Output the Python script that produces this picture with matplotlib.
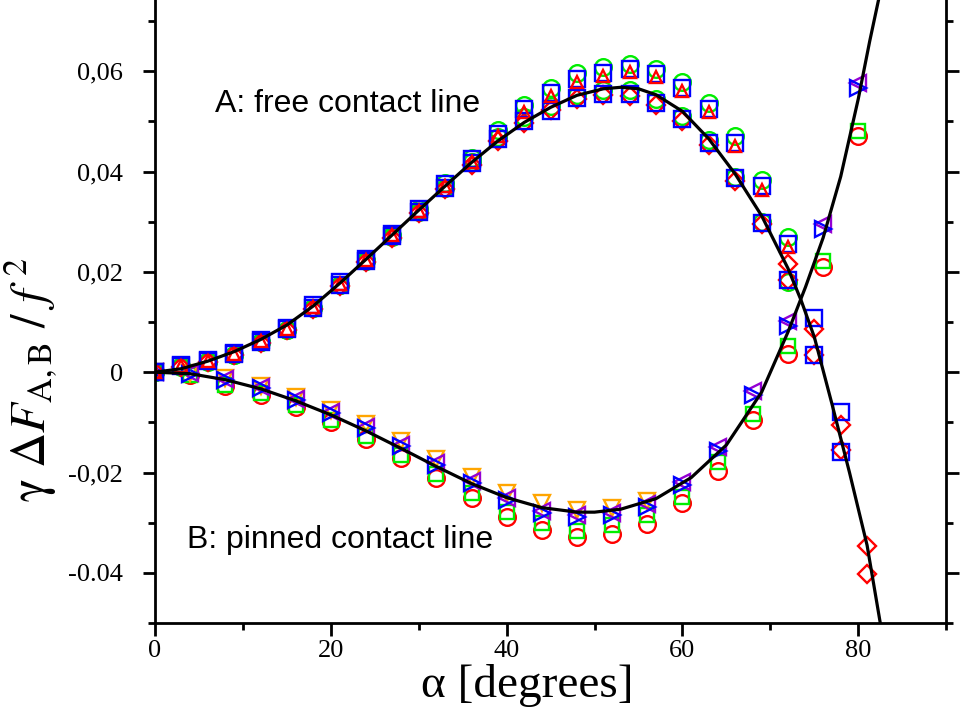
import numpy as np
import matplotlib
matplotlib.use('Agg')
import matplotlib.pyplot as plt
from matplotlib.ticker import MultipleLocator

plt.rcParams['mathtext.fontset'] = 'stix'

# ---- data ----
# A: free contact line, angles every 3 degrees
alpha_A = [0, 3, 6, 9, 12, 15, 18, 21, 24, 27, 30, 33, 36, 39, 42, 45, 48, 51, 54,
           57, 60, 63, 66, 69, 72, 75, 78, 81]

A_circ_hi = [0.0, 0.0012, 0.0022, 0.0034, 0.0060, 0.0085, 0.0128, 0.0174, 0.0224, 0.0274,
             0.0326, 0.0378, 0.0428, 0.0482, 0.0532, 0.0566, 0.0596, 0.0608, 0.0614, 0.0604,
             0.0578, 0.0536, 0.0470, 0.0384, 0.0270]
A_circ_lo = [0.0, 0.0010, 0.0020, 0.0034, 0.0060, 0.0085, 0.0128, 0.0174, 0.0222, 0.0270,
             0.0320, 0.0368, 0.0420, 0.0468, 0.0508, 0.0530, 0.0552, 0.0562, 0.0562, 0.0544,
             0.0510, 0.0462, 0.0390, 0.0300, 0.0180]
A_sq_hi = [0.0, 0.0014, 0.0024, 0.0038, 0.0064, 0.0089, 0.0133, 0.0179, 0.0226, 0.0276,
           0.0326, 0.0375, 0.0425, 0.0475, 0.0524, 0.0556, 0.0584, 0.0596, 0.0604, 0.0594,
           0.0566, 0.0524, 0.0457, 0.0371, 0.0256, 0.0109, -0.0079]
A_sq_lo = [0.0, 0.0012, 0.0022, 0.0036, 0.0060, 0.0086, 0.0128, 0.0174, 0.0222, 0.0272,
           0.0320, 0.0368, 0.0418, 0.0465, 0.0500, 0.0520, 0.0546, 0.0554, 0.0554, 0.0536,
           0.0504, 0.0457, 0.0387, 0.0298, 0.0183, 0.0034, -0.0160]
A_tri_hi = [0.0, 0.0012, 0.0022, 0.0036, 0.0062, 0.0087, 0.0130, 0.0176, 0.0224, 0.0274,
            0.0322, 0.0372, 0.0420, 0.0470, 0.0518, 0.0550, 0.0578, 0.0590, 0.0598, 0.0588,
            0.0560, 0.0518, 0.0450, 0.0364, 0.0250]
A_dia_lo = [0.0, 0.0010, 0.0020, 0.0034, 0.0058, 0.0084, 0.0126, 0.0172, 0.0220, 0.0268,
            0.0318, 0.0366, 0.0414, 0.0460, 0.0496, 0.0522, 0.0544, 0.0552, 0.0550, 0.0532,
            0.0500, 0.0452, 0.0382, 0.0296, 0.0183, 0.0035, -0.0155, -0.0403]
alpha_A_dia_hi = [72, 75, 78, 81]
A_dia_hi = [0.0216, 0.0087, -0.0105, -0.0347]

# B: pinned contact line, angles every 4 degrees
alpha_B = [0, 4, 8, 12, 16, 20, 24, 28, 32, 36, 40, 44, 48, 52, 56, 60, 64, 68, 72, 76, 80]
B_blue = [0.0, -0.0003, -0.0016, -0.0032, -0.0056, -0.0082, -0.0112, -0.0148, -0.0185,
          -0.0220, -0.0254, -0.0280, -0.0288, -0.0285, -0.0268, -0.0224, -0.0157, -0.0046,
          0.0093, 0.0286, 0.0566]
B_purple = [0.0, -0.0002, -0.0014, -0.0030, -0.0054, -0.0080, -0.0110, -0.0145, -0.0182,
            -0.0216, -0.0250, -0.0276, -0.0284, -0.0280, -0.0262, -0.0218, -0.0150, -0.0038,
            0.0102, 0.0296, 0.0576]
B_orange = [0.0, -0.0002, -0.0012, -0.0028, -0.0050, -0.0076, -0.0104, -0.0138, -0.0174,
            -0.0208, -0.0240, -0.0260, -0.0274, -0.0270, -0.0256]
B_green = [0.0, -0.0005, -0.0026, -0.0042, -0.0066, -0.0095, -0.0128, -0.0165, -0.0202,
           -0.0240, -0.0278, -0.0300, -0.0316, -0.0304, -0.0284, -0.0248, -0.0180, -0.0083,
           0.0052, 0.0222, 0.0480]
B_red = [0.0, -0.0006, -0.0028, -0.0045, -0.0070, -0.0100, -0.0134, -0.0172, -0.0210,
         -0.0250, -0.0288, -0.0314, -0.0328, -0.0322, -0.0302, -0.0260, -0.0197, -0.0095,
         0.0036, 0.0210, 0.0470]

# theory curves
alpha_curveA = [0, 3, 6, 9, 12, 15, 18, 21, 24, 27, 30, 33, 36, 39, 42, 45, 48, 51, 53, 55,
                57, 60, 63, 66, 69, 72, 73.5, 75, 77, 79, 81, 82.5]
curveA = [0, 0.0007, 0.0022, 0.0041, 0.0065, 0.0094, 0.0132, 0.0177, 0.0225, 0.0274,
          0.0323, 0.0371, 0.0418, 0.0461, 0.0498, 0.0528, 0.0552, 0.0565, 0.0568, 0.0565,
          0.0553, 0.0520, 0.0465, 0.0395, 0.0312, 0.0207, 0.0143, 0.0070, -0.0063, -0.0200,
          -0.0345, -0.0500]
alpha_curveB = [0, 4, 8, 12, 16, 20, 24, 28, 32, 36, 40, 44, 48, 50, 53, 57, 61, 65, 69, 72,
                74, 76, 78, 80, 81.3, 82.3]
curveB = [0, -0.0003, -0.0015, -0.0033, -0.0057, -0.0085, -0.0117, -0.0152, -0.0188,
          -0.0222, -0.0250, -0.0270, -0.0279, -0.0279, -0.0273, -0.0252, -0.0210, -0.0145,
          -0.0040, 0.0080, 0.0170, 0.0268, 0.0390, 0.0545, 0.0660, 0.0742]

ytick_vals = [-0.04, -0.02, 0, 0.02, 0.04, 0.06]
ytick_labels = ['-0.04', '-0,02', '0', '0,02', '0,04', '0,06']

green = '#00ee00'
blue = '#0000ff'
red = '#ff0000'
orange = '#ffa500'
purple = '#9400d3'

fig = plt.figure(figsize=(9.66, 7.23), dpi=100)
ax = fig.add_axes([0.1605, 0.1383, 0.819, 0.8617])

mk = dict(ls='none', mfc='none', mew=1.7)

# B data
ax.plot(alpha_B, B_red, marker='o', ms=12, mec=red, **mk)
ax.plot(alpha_B, B_green, marker='s', ms=10, mec=green, **mk)
ax.plot(alpha_B[:len(B_orange)], B_orange, marker='v', ms=11, mec=orange, **mk)
ax.plot(alpha_B, B_purple, marker='<', ms=11, mec=purple, **mk)
ax.plot(alpha_B, B_blue, marker='>', ms=11, mec=blue, **mk)

# A data
n = len(A_circ_hi)
ax.plot(alpha_A[:n], A_circ_hi, marker='o', ms=12, mec=green, **mk)
ax.plot(alpha_A[:n], A_circ_lo, marker='o', ms=12, mec=green, **mk)
ax.plot(alpha_A[:len(A_dia_lo)], A_dia_lo, marker='D', ms=9, mec=red, **mk)
ax.plot(alpha_A_dia_hi, A_dia_hi, marker='D', ms=9, mec=red, **mk)
ax.plot(alpha_A[:len(A_sq_hi)], A_sq_hi, marker='s', ms=11, mec=blue, **mk)
ax.plot(alpha_A[:len(A_sq_lo)], A_sq_lo, marker='s', ms=11, mec=blue, **mk)
ax.plot(alpha_A[:len(A_tri_hi)], A_tri_hi, marker='^', ms=9, mec=red, **mk)

# curves
ax.plot(alpha_curveA, curveA, color='black', lw=2.3, zorder=5)
ax.plot(alpha_curveB, curveB, color='black', lw=2.3, zorder=5)

ax.set_xlim(0, 90)
ax.set_ylim(-0.05, 0.0742)
ax.spines['top'].set_visible(False)
for s in ['left', 'right', 'bottom']:
    ax.spines[s].set_linewidth(2)

ax.xaxis.set_major_locator(MultipleLocator(20))
ax.xaxis.set_minor_locator(MultipleLocator(10))
ax.set_yticks(ytick_vals, ytick_labels)
ax.yaxis.set_minor_locator(MultipleLocator(0.01))
ax.tick_params(which='both', direction='out', width=2, right=True, top=False)
ax.tick_params(which='major', length=9)
ax.tick_params(which='minor', length=5)
ax.tick_params(axis='y', which='major', pad=14)
for lab in ax.get_xticklabels() + ax.get_yticklabels():
    lab.set_fontfamily('Liberation Serif')
    lab.set_fontsize(19)

ax.set_xlabel('α [degrees]', fontsize=34, family='Liberation Serif')
ax.xaxis.set_label_coords(0.47, -0.065)
ax.set_ylabel(r'$\mathrm{\gamma}\ \Delta F_{\mathrm{A,B}}\ /\ f^{\ 2}$', fontsize=35)
ax.yaxis.set_label_coords(-0.122, 0.39)

ax.text(6.8, 0.0534, 'A: free contact line', fontsize=23, family='Liberation Sans',
        va='center', ha='left')
ax.text(3.6, -0.0334, 'B: pinned contact line', fontsize=23, family='Liberation Sans',
        va='center', ha='left')

fig.savefig('out.png', dpi=100)
